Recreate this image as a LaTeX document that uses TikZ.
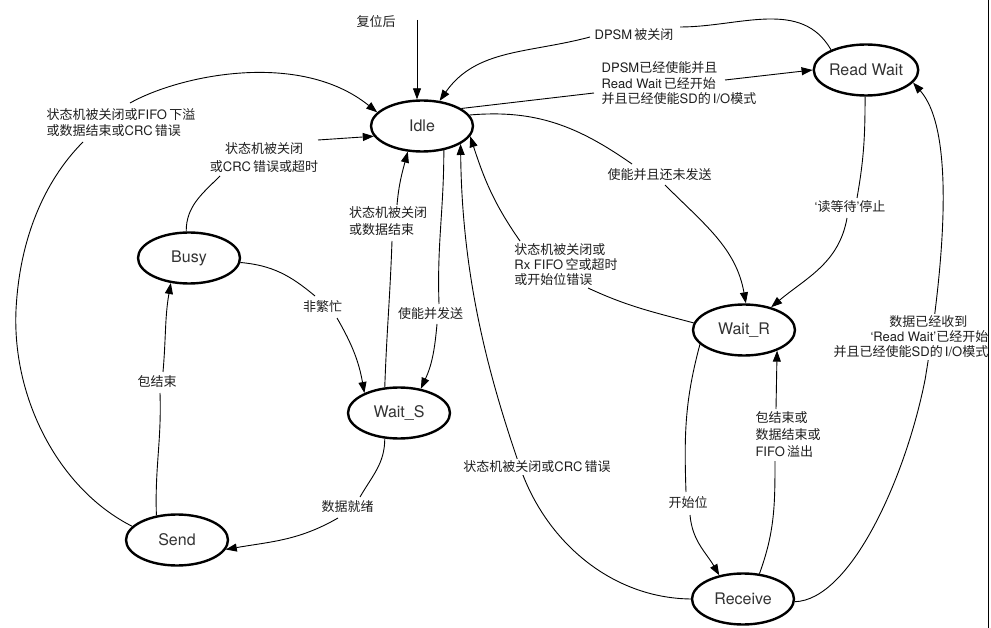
\documentclass[tikz,border=0pt]{standalone}
\usepackage{fontspec}
\setmainfont{TeX Gyre Heros}
\newfontfamily\cjkfont{Noto Sans CJK SC}
\newcommand\zhtxt[1]{{\cjkfont #1}}
\usetikzlibrary{shapes.geometric,arrows.meta}
\definecolor{nodetext}{HTML}{333333}
\definecolor{labtext}{HTML}{1E1E1E}
\begin{document}
\begin{tikzpicture}[x=1pt,y=1pt,
  state/.style={ellipse,draw=black,line width=2.4pt,minimum width=102pt,minimum height=51pt,inner sep=0pt,font=\fontsize{16}{18}\selectfont,text=nodetext},
  lbl/.style={font=\fontsize{13}{16}\selectfont,text=labtext,inner sep=1.5pt},
  edge/.style={draw=black,line width=0.9pt},
  arr/.style={edge,-{Triangle[length=11pt,width=8pt]}},
]
\useasboundingbox (0,0) rectangle (991,-628);
\fill[white] (0,0) rectangle (991,-628);

% states
\node[state] (idle)  at (422,-126) {Idle};
\node[state] (rw)    at (866,-70)  {Read Wait};
\node[state] (busy)  at (189,-258) {Busy};
\node[state] (waits) at (399,-413) {Wait\_S};
\node[state] (waitr) at (744,-330) {Wait\_R};
\node[state] (recv)  at (743,-599) {Receive};
\node[state] (send)  at (177,-540) {Send};

% labels
\node[lbl] (lrst) at (376,-22) {\zhtxt{复位后}};
\node[lbl] (l1) at (634,-35) {DPSM\,\zhtxt{被关闭}};
\node[lbl,align=left,font=\fontsize{13}{15.5}\selectfont] (l2) at (679,-83.5) {DPSM\zhtxt{已经使能并且}\\Read Wait\,\zhtxt{已经开始}\\\zhtxt{并且已经使能}SD\zhtxt{的}\,I/O\zhtxt{模式}};
\node[lbl] (l3) at (659.5,-175) {\zhtxt{使能并且还未发送}};
\node[lbl] (l4) at (850,-207) {‘\zhtxt{读等待}’\zhtxt{停止}};
\node[lbl] (l6) at (688,-503) {\zhtxt{开始位}};
\node[lbl,align=left,font=\fontsize{13}{17}\selectfont] (l7) at (788,-435) {\zhtxt{包结束或}\\\zhtxt{数据结束或}\\FIFO\,\zhtxt{溢出}};
\node[lbl,align=left,font=\fontsize{13}{15}\selectfont] (l8) at (566,-265) {\zhtxt{状态机被关闭或}\\Rx FIFO\,\zhtxt{空或超时}\\\zhtxt{或开始位错误}};
\node[lbl] (l10) at (430.5,-314) {\zhtxt{使能并发送}};
\node[lbl,align=left,font=\fontsize{13}{17}\selectfont] (l11) at (388,-221.5) {\zhtxt{状态机被关闭}\\\zhtxt{或数据结束}};
\node[lbl] (l12) at (322.5,-307) {\zhtxt{非繁忙}};
\node[lbl] (l13) at (157,-382) {\zhtxt{包结束}};
\node[lbl] (l14) at (347.5,-507) {\zhtxt{数据就绪}};
\node[lbl,align=center,font=\fontsize{13}{18}\selectfont] (l15) at (264,-158) {\zhtxt{状态机被关闭}\\\zhtxt{或}CRC\,\zhtxt{错误或超时}};
\node[lbl,align=left] (l16) at (121,-123) {\zhtxt{状态机被关闭或}FIFO\,\zhtxt{下溢}\\\zhtxt{或数据结束或}CRC\,\zhtxt{错误}};

% reset
\coordinate (rst) at (417,-20);
\draw[arr] (rst) -- (rst |- idle.north);

% Read Wait -> Idle
\draw[edge] (rw.150) to[out=120,in=0] ([shift={(46,8)}]l1.center);
\draw[arr] ([shift={(-44,-2)}]l1.center) to[out=195,in=55] (idle.55);

% Idle -> Read Wait
\draw[edge] (idle.24) -- ([shift={(-85,-9.5)}]l2.center);
\draw[arr] ([shift={(46,3.5)}]l2.center) -- (rw.180);

% Idle -> Wait_R
\draw[edge] (idle.13) to[out=5,in=145] ([shift={(-27.5,11)}]l3.center);
\draw[arr] ([shift={(5.5,-10)}]l3.center) to[out=-45,in=100] (waitr.86);

% Read Wait -> Wait_R
\draw[edge] (rw.-92) to[out=-90,in=80] ([shift={(7,9)}]l4.center);
\draw[arr] ([shift={(-3,-11)}]l4.center) to[out=-100,in=40] (waitr.40);

% Receive -> Read Wait
\draw[arr] (recv.-3) .. controls (850,-600) and (905,-480) .. (925,-380)
  .. controls (945,-260) and (955,-130) .. (rw.-15);
\node[lbl,fill=white,align=right,anchor=east,font=\fontsize{13}{15}\selectfont] (l5) at (990,-337) {\zhtxt{数据已经收到}\hspace*{21pt}\\‘Read Wait’\zhtxt{已经开始}\hspace*{21pt}\\\zhtxt{并且已经使能}SD\zhtxt{的}\,I/O\zhtxt{模式}};

% Wait_R -> Receive
\draw[edge] (waitr.198) to[out=-105,in=92] ([shift={(-2,11)}]l6.center);
\draw[arr] ([shift={(2,-12)}]l6.center) to[out=-85,in=120] (recv.135);

% Receive -> Wait_R
\draw[edge] (recv.57) to[out=70,in=-90] ([shift={(-13,-26)}]l7.center);
\draw[arr] ([shift={(-12,26)}]l7.center) -- (waitr.-32);

% Wait_R -> Idle
\draw[edge] (waitr.172) to[out=165,in=-25] ([shift={(22,-23)}]l8.center);
\draw[arr] ([shift={(-46,24)}]l8.center) to[out=125,in=-72] (idle.-12);

% Receive -> Idle
\draw[arr] (recv.west) .. controls (610,-598) and (545,-540) .. (520,-467)
  .. controls (490,-380) and (462,-280) .. (idle.-25);
\node[lbl,fill=white] (l9) at (537,-467) {\zhtxt{状态机被关闭或}CRC\,\zhtxt{错误}};

% Idle -> Wait_S
\draw[edge] (idle.-48) to[out=-90,in=92] ([shift={(8.5,10)}]l10.center);
\draw[arr] ([shift={(6.5,-10)}]l10.center) to[out=-95,in=65] (waits.48);

% Wait_S -> Idle
\draw[edge] (waits.119) to[out=88,in=-92] ([shift={(4,-19.5)}]l11.center);
\draw[arr] ([shift={(9,16.5)}]l11.center) to[out=85,in=-105] (idle.241);

% Busy -> Wait_S
\draw[edge] (busy.-5) to[out=-5,in=140] ([shift={(-7.5,11)}]l12.center);
\draw[arr] ([shift={(14.5,-11)}]l12.center) to[out=-60,in=100] (waits.150);

% Send -> Busy
\draw[edge] (send.130) to[out=92,in=-88] ([shift={(3,-11)}]l13.center);
\draw[arr] ([shift={(6,10)}]l13.center) to[out=85,in=-100] (busy.234);

% Wait_S -> Send
\draw[edge] (waits.-119) to[out=-90,in=60] ([shift={(12.5,10)}]l14.center);
\draw[arr] ([shift={(-9.5,-11)}]l14.center) to[out=-150,in=10] (send.-11);

% Busy -> Idle
\draw[edge] (busy.96) to[out=90,in=-135] ([shift={(-44,-18)}]l15.center);
\draw[arr] ([shift={(54,18)}]l15.center) -- (idle.192);

% Send -> Idle
\draw[edge] (send.163) .. controls (60,-490) and (12,-400) .. (16,-310)
  .. controls (20,-230) and (50,-175) .. ([shift={(-38,-19)}]l16.center);
\draw[arr] ([shift={(9,20)}]l16.center) .. controls (180,-75) and (300,-50) .. (idle.163);

% right frame line
\draw[line width=1.5pt] (988.5,0) -- (988.5,-628);
\end{tikzpicture}
\end{document}
